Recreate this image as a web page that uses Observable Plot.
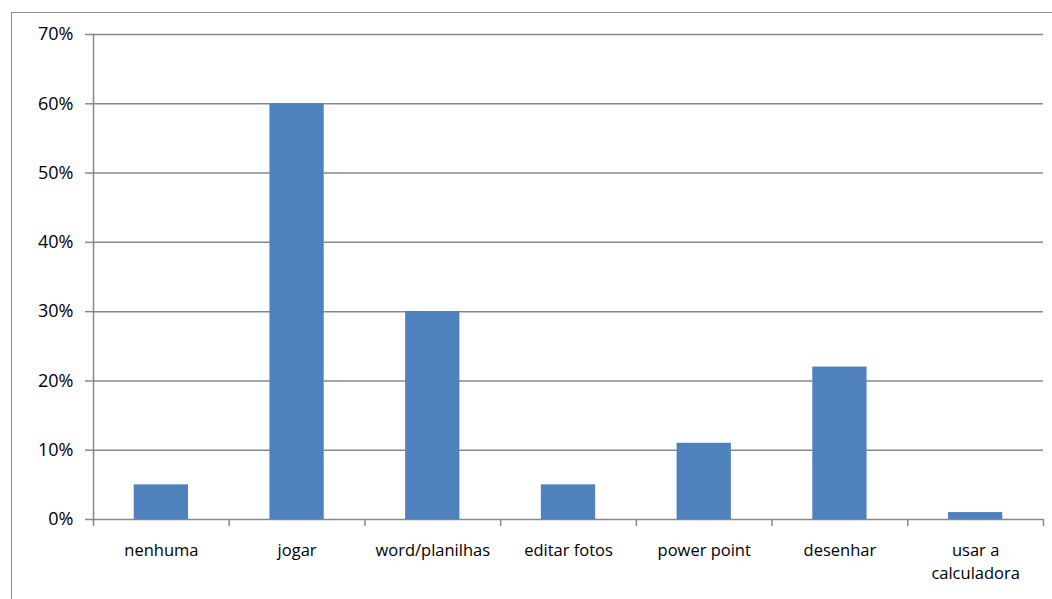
<!DOCTYPE html>
<html>
<head>
<meta charset="utf-8">
<script src="https://cdn.jsdelivr.net/npm/d3@7"></script>
<script src="https://cdn.jsdelivr.net/npm/@observablehq/plot@0.6"></script>
<style>
  html, body { margin: 0; padding: 0; background: #fff; overflow: hidden; }
  #wrap { position: relative; width: 1052px; height: 599px; overflow: hidden; }
  #border { position: absolute; left: 11px; top: 12px; width: 1200px; height: 800px; border: 1px solid #8c8c8c; }
  #chart { position: absolute; left: 0; top: 0; }
</style>
</head>
<body>
<div id="wrap">
  <div id="border"></div>
  <div id="chart"></div>
</div>
<script>
// Atividades no computador (percentual de respostas)
const categories = ["nenhuma", "jogar", "word/planilhas", "editar fotos", "power point", "desenhar", "usar a\ncalculadora"];
const values = [0.05, 0.60, 0.30, 0.05, 0.11, 0.22, 0.01];
const yTicks = [0, 0.1, 0.2, 0.3, 0.4, 0.5, 0.6, 0.7];

const data = categories.map((c, i) => ({cat: c, value: values[i]}));

const W = 1052, H = 599;
const mL = 93, mR = 9, mT = 34, mB = 80;
const step = (W - mL - mR) / categories.length;
const gridColor = "#888888";
const textColor = "#000000";
const font = "'Open Sans', sans-serif";

const chart = Plot.plot({
  width: W,
  height: H,
  marginLeft: mL,
  marginRight: mR,
  marginTop: mT,
  marginBottom: mB,
  style: {fontFamily: font, fontSize: "17px", color: textColor, background: "transparent"},
  x: {domain: categories, paddingInner: 0.6, paddingOuter: 0.3, round: false, label: null},
  y: {domain: [0, 0.7], label: null},
  marks: [
    Plot.gridY(yTicks, {stroke: gridColor, strokeOpacity: 1, strokeWidth: 1.5}),
    Plot.frame({anchor: "left", stroke: gridColor, strokeWidth: 1.5}),
    Plot.axisY(yTicks, {
      tickFormat: d3.format(".0%"),
      tickSize: 8,
      tickPadding: 12,
      stroke: gridColor,
      strokeWidth: 1.5,
      fontSize: 18,
      fill: textColor,
      label: null
    }),
    Plot.barY(data, {x: "cat", y: "value", fill: "#4F81BD"}),
    // category separator ticks below the baseline
    Plot.ruleX(categories, {x: d => d, dx: -step / 2, y1: 0, y2: 0, insetBottom: -7, stroke: gridColor, strokeWidth: 1.5}),
    Plot.ruleX(categories.slice(-1), {x: d => d, dx: step / 2, y1: 0, y2: 0, insetBottom: -7, stroke: gridColor, strokeWidth: 1.5}),
    Plot.axisX({
      tickSize: 0,
      tickPadding: 20,
      lineHeight: 1.41,
      fontSize: 16.5,
      fill: textColor,
      label: null
    })
  ]
});

document.getElementById("chart").appendChild(chart);
</script>
</body>
</html>
